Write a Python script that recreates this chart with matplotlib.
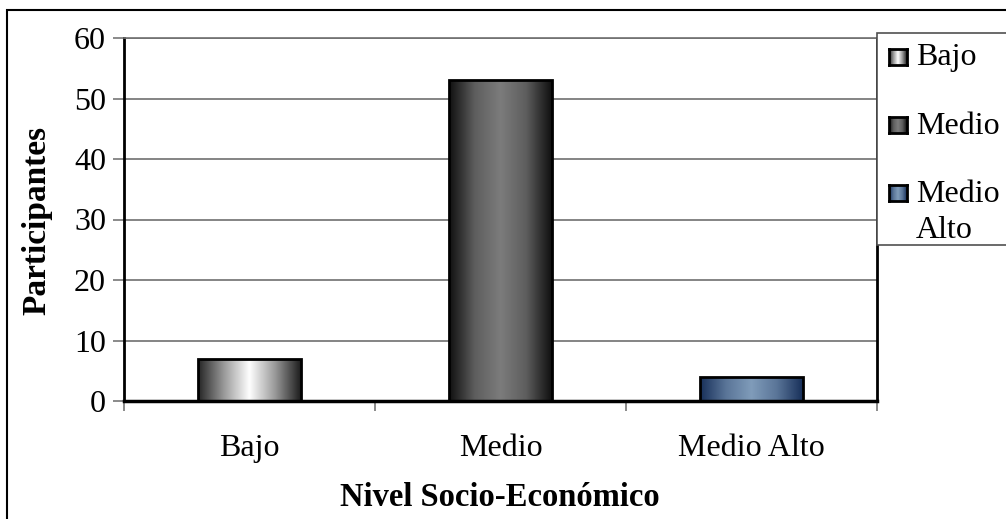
import matplotlib.pyplot as plt
import numpy as np
from matplotlib.colors import LinearSegmentedColormap
from matplotlib.patches import Rectangle

# participantes por nivel socio-economico
niveles = ["Bajo", "Medio", "Medio Alto"]
etiquetas_leyenda = ["Bajo", "Medio", "Medio\nAlto"]
participantes = [7, 53, 4]

# degradado de cada barra: borde oscuro -> centro claro -> borde oscuro
degradados = [
    ["#262626", "#9a9a9a", "#ffffff", "#9a9a9a", "#1e1e1e"],
    ["#101010", "#5e5e5e", "#7c7c7c", "#5e5e5e", "#101010"],
    ["#18305a", "#5a7598", "#809cba", "#5a7598", "#18305a"],
]

plt.rcParams['font.family'] = ['Liberation Serif', 'DejaVu Serif']
fs = 23

fig = plt.figure(figsize=(10.06, 5.19), dpi=100)
ax = fig.add_axes([124/1006, 1-401/519, 753/1006, 363/519])

ancho = 0.41
x = np.arange(len(niveles))
grad = np.linspace(0, 1, 128).reshape(1, -1)
for i, (xi, v) in enumerate(zip(x, participantes)):
    barra = ax.bar(xi, v, width=ancho, color='none', edgecolor='black',
                   linewidth=2, zorder=3)[0]
    cmap = LinearSegmentedColormap.from_list("g%d" % i, degradados[i])
    im = ax.imshow(grad, cmap=cmap, aspect='auto', zorder=2.5,
                   extent=[xi - ancho/2, xi + ancho/2, 0, v])
    im.set_clip_path(barra)

ax.set_xlim(-0.5, 2.5)
ax.set_ylim(0, 60)
ax.set_yticks(np.arange(0, 61, 10))
ax.set_xticks([-0.5, 0.5, 1.5, 2.5])
ax.set_xticklabels([])
ax.set_xticks(x, minor=True)
ax.set_xticklabels(niveles, minor=True)
ax.tick_params(axis='x', which='major', length=7, color='#777777', width=1.2)
ax.tick_params(axis='x', which='minor', length=0, pad=24, labelsize=fs)
ax.tick_params(axis='y', length=8, color='#777777', width=1.2, pad=5,
               labelsize=fs)
ax.yaxis.grid(True, color='#707070', linewidth=1.2, zorder=1)
ax.set_axisbelow(True)

ax.spines['left'].set_linewidth(2)
ax.spines['bottom'].set_linewidth(2.5)
ax.spines['right'].set_linewidth(2)
ax.spines['top'].set_color('#707070')
ax.spines['top'].set_linewidth(1.2)

fig.text(37/1006, 1-220/519, "Participantes", rotation=90, fontsize=24,
         fontweight='bold', ha='center', va='center')
fig.text(500/1006, 1-497/519, "Nivel Socio-Económico", fontsize=23.5,
         fontweight='bold', ha='center', va='center')

# marco exterior del grafico
fig.patches.append(Rectangle((7/1006, -0.5), 2, 0.5 + 1 - 10/519,
                             transform=fig.transFigure, fill=False,
                             edgecolor='black', linewidth=1.5))

# leyenda
fig.patches.append(Rectangle((877/1006, 1-245/519), 0.5, (245-33)/519,
                             transform=fig.transFigure, facecolor='white',
                             edgecolor='#505050', linewidth=1.2, zorder=5))
ys = [57, 125, 193]
for i, (lab, yc) in enumerate(zip(etiquetas_leyenda, ys)):
    cuadro = fig.add_axes([889/1006, 1-(yc+8)/519, 18/1006, 16/519], zorder=6)
    cmap = LinearSegmentedColormap.from_list("l%d" % i, degradados[i])
    cuadro.imshow(grad, cmap=cmap, aspect='auto')
    cuadro.set_xticks([])
    cuadro.set_yticks([])
    for s in cuadro.spines.values():
        s.set_linewidth(2)
    if '\n' in lab:
        fig.text(916/1006, 1-(yc-13)/519, lab, fontsize=fs, ha='left',
                 va='top', linespacing=1.3, zorder=7)
    else:
        fig.text(916/1006, 1-(yc+1)/519, lab, fontsize=fs, ha='left',
                 va='center', zorder=7)

fig.savefig('out.png', dpi=100)
